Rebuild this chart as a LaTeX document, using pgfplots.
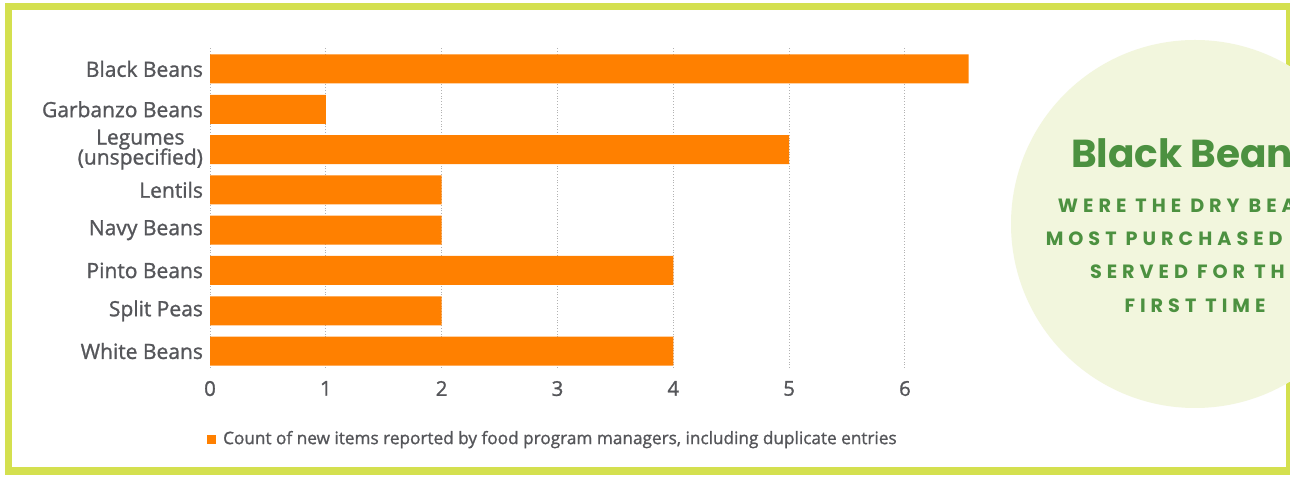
\documentclass[border=0pt]{standalone}
\usepackage{pgfplots}
\pgfplotsset{compat=1.18}
\usepackage{fontspec}
\setmainfont{Open Sans}[FakeBold=1.2]
\newfontfamily\circfont[LetterSpace=26]{Poppins}
\newfontfamily\titlefont{Poppins}
\definecolor{barorange}{HTML}{FF8000}
\definecolor{textgray}{HTML}{55565A}
\definecolor{titlegreen}{HTML}{4C9140}
\definecolor{circfill}{HTML}{F2F6DD}
\definecolor{framegreen}{HTML}{D4E04F}
\begin{document}
\begin{tikzpicture}
\useasboundingbox (0,0) rectangle (645pt,240pt);
\clip (0,0) rectangle (645pt,240pt);
\fill[white] (0,0) rectangle (645pt,240pt);
\draw[framegreen, line width=3.6pt] (4.3pt,4.5pt) rectangle (644.75pt,236.85pt);
\fill[circfill] (597.5pt,128pt) circle (92pt);
\node[text=titlegreen, anchor=west, font=\fontsize{19.5}{22}\selectfont\titlefont\bfseries] at (532pt,163.5pt) {Black Beans};
\node[text=titlegreen, align=center, font=\fontsize{9.6}{16.7}\selectfont\circfont\bfseries] at (597.5pt,112.25pt)
 {WERE THE DRY BEANS\\MOST PURCHASED AND\\SERVED FOR THE\\FIRST TIME};
\begin{axis}[
 at={(105pt,56pt)}, anchor=south west,
 scale only axis, width=405.4pt, height=160pt,
 xbar, bar width=14.5pt, bar shift=0pt,
 xmin=0, xmax=7, ymin=-0.42, ymax=7.52,
 xtick={0,...,6}, ytick={0,...,7},
 yticklabels={White Beans, Split Peas, Pinto Beans, Navy Beans, Lentils, {Legumes\\[-1pt](unspecified)}, Garbanzo Beans, Black Beans},
 axis line style={draw=none}, major tick length=0pt,
 xmajorgrids, major grid style={densely dotted, black!30, line width=0.5pt},
 xticklabel style={font=\fontsize{10.2}{12}\selectfont, text=textgray, yshift=-3pt},
 yticklabel style={font=\fontsize{10.5}{11}\selectfont, text=textgray, align=center},
 /pgf/number format/assume math mode=true,
 legend style={at={(-0.004,-0.222)}, anchor=west, draw=none, fill=none, inner sep=0pt,
   font=\fontsize{8.6}{10}\selectfont, text=textgray,
   /tikz/every odd column/.append style={column sep=1.5pt}},
]
\addplot[fill=barorange, draw=none,
  legend image code/.code={\fill[barorange] (0pt,-2.25pt) rectangle (4.5pt,2.25pt);}]
 coordinates {(4,0) (2,1) (4,2) (2,3) (2,4) (5,5) (1,6) (6.55,7)};
\addlegendentry{Count of new items reported by food program managers, including duplicate entries}
\end{axis}
\end{tikzpicture}
\end{document}
